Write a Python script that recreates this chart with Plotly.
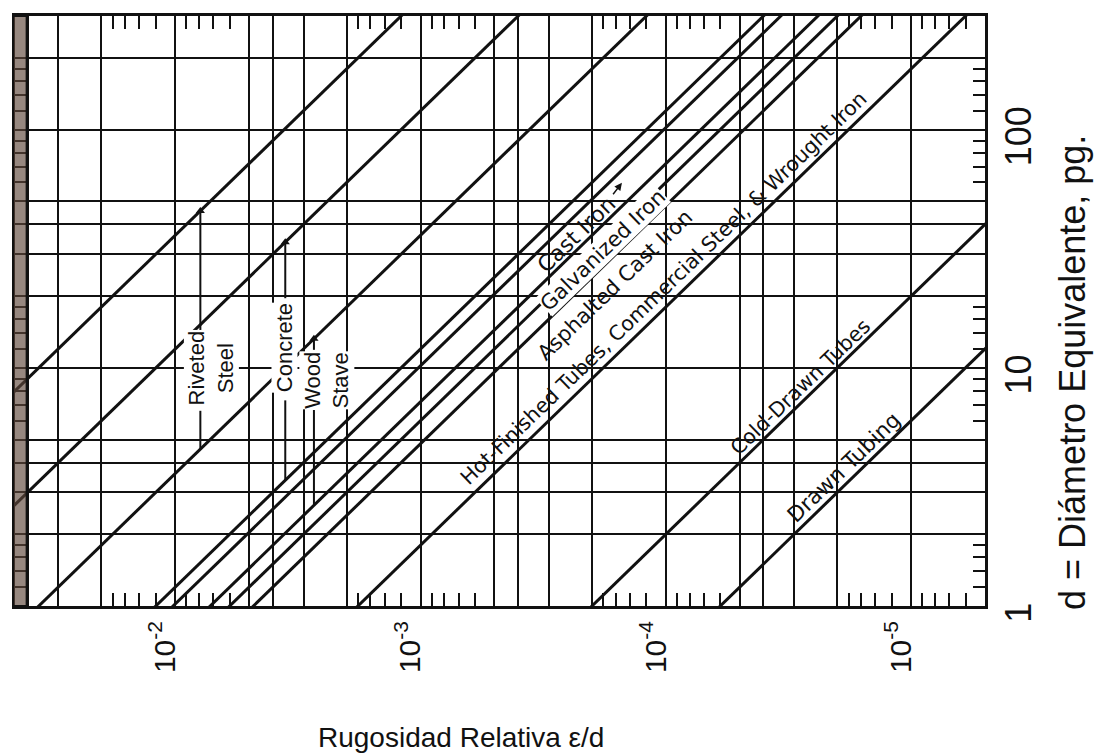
import math
import plotly.graph_objects as go

# ---- chart data -------------------------------------------------------------
# absolute roughness (in) of each material line: e/d = eps / d
eps_lines = [0.36, 0.12, 0.036, 0.012, 0.0102, 0.0072, 0.006, 0.0048, 0.0018, 0.0002, 0.00006]
# diameter span used to draw each straight line (the axes clip it)
d_extent = [0.1, 1000.0]

# axis limits
rel_rough_limits = [0.045, 0.000005]
diam_limits = [1, 300]

# grid multipliers, minor tick multipliers and decades covered
grid_mult = [1, 2, 3, 4, 5]
minor_mult = [1.2, 1.4, 1.6, 1.8, 6, 7, 8, 9]
x_decades = [-6, -5, -4, -3, -2]
y_decades = [0, 1, 2]
x_label_exp = [-2, -3, -4, -5]
y_label_vals = [1, 10, 100]

# diagonal material labels: text, e/d and d of the label centre
diag_text = ["Cast Iron", "Galvanized Iron", "Asphalted Cast Iron",
             "Hot-Finished Tubes, Commercial Steel, & Wrought Iron",
             "Cold-Drawn Tubes", "Drawn Tubing"]
diag_x = [2.32e-4, 1.80e-4, 1.61e-4, 1.02e-4, 2.83e-5, 1.89e-5]
diag_d = [36.4, 31.2, 22.3, 21.6, 8.31, 3.83]

# vertical range labels with their brackets
range_text = ["Riveted<br>Steel", "Concrete", "Wood<br>Stave"]
range_label_x = [7.12e-3, 3.60e-3, 2.41e-3]
range_label_d = [9.98, 12.1, 8.89]
bracket_x = [0.0079, 0.00356, 0.00272]
bracket_eps_hi = [0.36, 0.12, 0.036]
bracket_eps_lo = [0.036, 0.012, 0.0072]
bracket_gap_hi = [14.4, 19.6, 11.9]
bracket_gap_lo = [6.6, 7.3, 6.65]

# small pointer next to the cast-iron label (e/d, d of its head)
pointer_x = [1.51e-4]
pointer_d = [59.8]

x_title = "Rugosidad Relativa ε/d"
y_title = "d = Diámetro Equivalente, pg."

INK = "#111111"
FONT = "Liberation Sans, Arial, Helvetica, sans-serif"
DIAG_FONT = "DejaVu Sans, Liberation Sans, sans-serif"

# per-label styling for the diagonal labels
diag_size = [22, 21, 21, 20.5, 20.5, 21.5]
diag_bg = [None, "white", None, None, None, None]

fig = go.Figure()

# material lines
for eps in eps_lines:
    fig.add_trace(go.Scatter(
        x=[eps / d for d in d_extent], y=d_extent, mode="lines",
        line=dict(color=INK, width=3), hoverinfo="skip", showlegend=False))

# brackets marking the roughness ranges
for bx, ehi, elo, ghi, glo in zip(bracket_x, bracket_eps_hi, bracket_eps_lo,
                                  bracket_gap_hi, bracket_gap_lo):
    top = ehi / bx
    bottom = elo / bx
    fig.add_trace(go.Scatter(
        x=[bx, bx, None, bx, bx], y=[top, ghi, None, glo, bottom],
        mode="lines", line=dict(color=INK, width=2),
        hoverinfo="skip", showlegend=False))
    fig.add_trace(go.Scatter(
        x=[bx], y=[top], mode="markers",
        marker=dict(symbol="triangle-up", size=8, color=INK),
        hoverinfo="skip", showlegend=False))

annotations = []
for t, x, d, s, bg in zip(diag_text, diag_x, diag_d, diag_size, diag_bg):
    ann = dict(
        x=math.log10(x), y=math.log10(d), xref="x", yref="y", text=t,
        showarrow=False, textangle=-44,
        font=dict(family=DIAG_FONT, size=s, color=INK))
    if bg:
        ann.update(bgcolor=bg, borderpad=0)
    annotations.append(ann)
for t, x, d in zip(range_text, range_label_x, range_label_d):
    annotations.append(dict(
        x=math.log10(x), y=math.log10(d), xref="x", yref="y", text=t,
        showarrow=False, textangle=-90, bgcolor="white", borderpad=0,
        font=dict(family=FONT, size=22, color=INK)))
for x, d in zip(pointer_x, pointer_d):
    annotations.append(dict(
        x=math.log10(x), y=math.log10(d), xref="x", yref="y", text="",
        showarrow=True, ax=-10, ay=13, arrowhead=2, arrowsize=1,
        arrowwidth=1.5, arrowcolor=INK))

annotations.append(dict(
    x=0.46, y=0, xref="paper", yref="paper", yshift=-131, text=x_title,
    showarrow=False, xanchor="center", yanchor="middle",
    font=dict(family=FONT, size=28, color=INK)))
annotations.append(dict(
    x=1, y=0.395, xref="paper", yref="paper", xshift=88, text=y_title,
    showarrow=False, textangle=-90, xanchor="center", yanchor="middle",
    font=dict(family=FONT, size=36, color=INK)))

# tick / grid values
x_grid = [m * 10 ** e for e in x_decades for m in grid_mult]
x_text = []
for e in x_decades:
    for m in grid_mult:
        x_text.append(f"10<sup>{e}</sup>" if (m == 1 and e in x_label_exp) else "")
x_minor = [m * 10 ** e for e in x_decades for m in minor_mult]

y_grid = [m * 10 ** e for e in y_decades for m in grid_mult]
y_text = []
for e in y_decades:
    for m in grid_mult:
        v = m * 10 ** e
        y_text.append(str(v) if v in y_label_vals else "")
y_minor = [m * 10 ** e for e in y_decades for m in minor_mult]

axis_common = dict(
    type="log", showgrid=True, gridcolor=INK, gridwidth=2, zeroline=False,
    showline=True, linecolor=INK, linewidth=3, mirror="ticks", ticks="",
    tickangle=-90, tickmode="array")

fig.update_layout(
    width=1096, height=755, paper_bgcolor="white", plot_bgcolor="white",
    margin=dict(l=12, r=111, t=16, b=149),
    xaxis=dict(
        **axis_common,
        range=[math.log10(rel_rough_limits[0]), math.log10(rel_rough_limits[1])],
        tickvals=x_grid, ticktext=x_text, ticklabelstandoff=0,
        ticklabelshift=10,
        tickfont=dict(family=FONT, size=30, color=INK),
        minor=dict(tickvals=x_minor, ticks="inside", ticklen=13, tickwidth=2,
                   tickcolor=INK, showgrid=False)),
    yaxis=dict(
        **axis_common, side="right",
        range=[math.log10(diam_limits[0]), math.log10(diam_limits[1])],
        tickvals=y_grid, ticktext=y_text, ticklabelstandoff=0,
        ticklabelshift=12,
        tickfont=dict(family=FONT, size=36, color=INK),
        minor=dict(tickvals=y_minor, ticks="inside", ticklen=12, tickwidth=2,
                   tickcolor=INK, showgrid=False)),
    annotations=annotations,
    shapes=[dict(type="rect", xref="paper", yref="paper",
                 x0=-0.002, x1=0.012, y0=0, y1=1,
                 fillcolor="rgba(95,72,60,0.65)", line=dict(color=INK, width=2),
                 layer="above")],
    showlegend=False,
)

fig.write_html("out.html")
